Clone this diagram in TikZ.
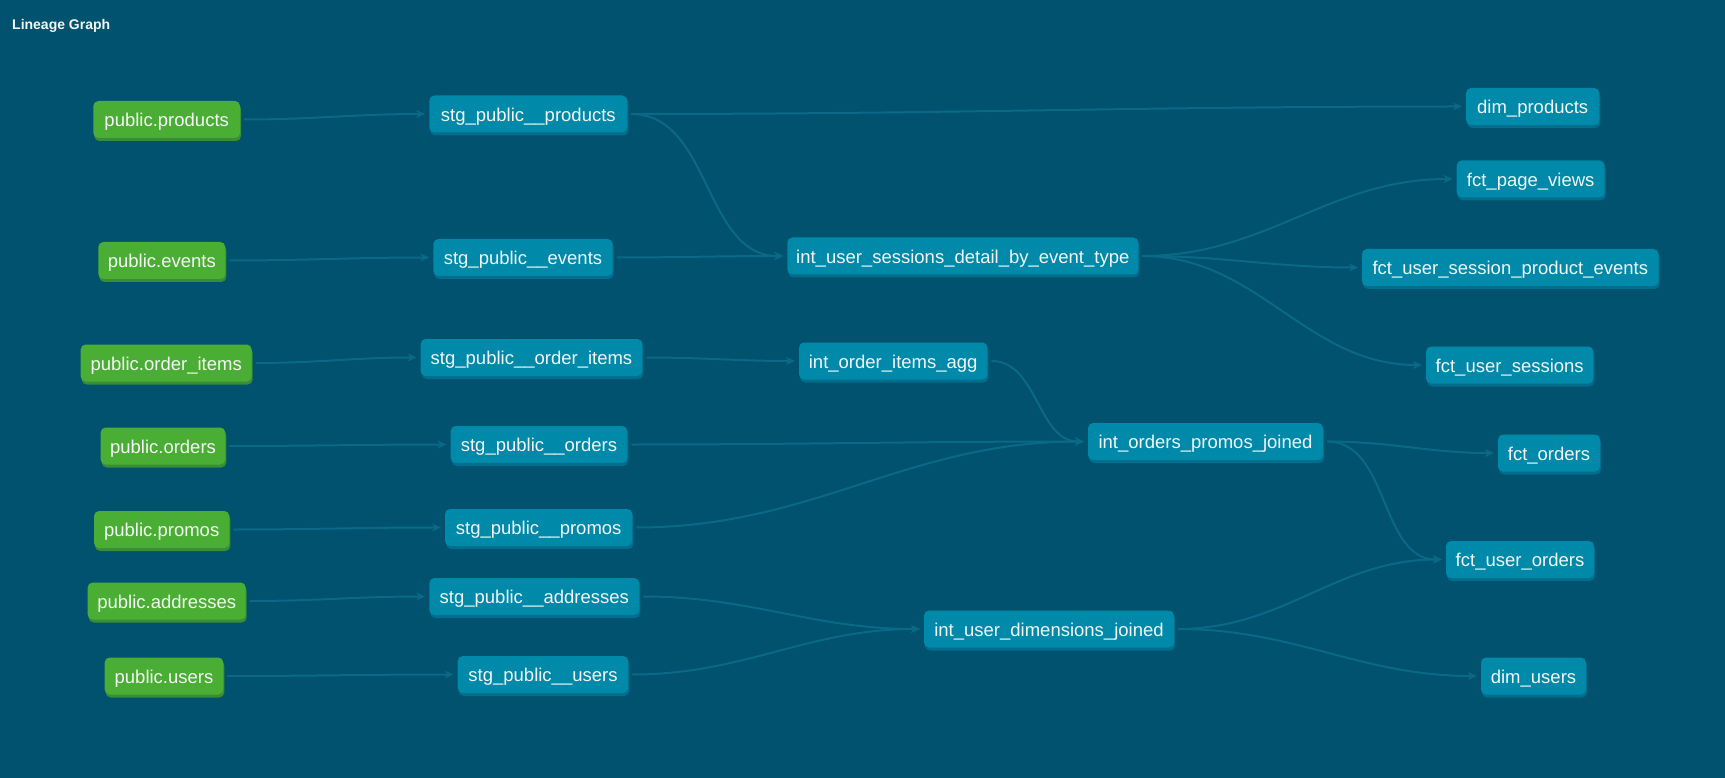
\documentclass[tikz,border=0pt]{standalone}
\usepackage{fontspec}
\setmainfont{Liberation Sans}
\usetikzlibrary{arrows.meta,shadows}

\definecolor{canvasbg}{HTML}{00526E}
\definecolor{mdlblue}{HTML}{0089A8}
\definecolor{mdlshade}{HTML}{006E8C}
\definecolor{srcgreen}{HTML}{4BAE34}
\definecolor{srcshade}{HTML}{3A8C37}
\definecolor{edgecol}{HTML}{0A6987}
\definecolor{labeltext}{HTML}{F4F6F6}

\begin{document}
\begin{tikzpicture}[x=1pt,y=-1pt,
  box/.style={rounded corners=5pt, inner xsep=0pt, inner ysep=0pt, outer sep=0pt,
    minimum height=37pt, text=labeltext, font=\fontsize{18.5}{20}\selectfont,
    text height=14.4pt, text depth=0pt},
  src/.style={box, fill=srcgreen,
    drop shadow={shadow xshift=1pt, shadow yshift=-3pt, fill=srcshade, opacity=1}},
  mdl/.style={box, fill=mdlblue,
    drop shadow={shadow xshift=1pt, shadow yshift=-3pt, fill=mdlshade, opacity=1}},
  edge/.style={draw=edgecol, line width=2pt,
    -{Stealth[length=9pt, width=8pt, inset=2.5pt]},
    shorten <=4pt, shorten >=4pt},
  flow/.style={out=0, in=180}
]
% canvas
\path[use as bounding box, fill=canvasbg] (0,0) rectangle (1725,778);

% heading
\node[anchor=base west, inner sep=0pt, text=labeltext,
  font=\fontsize{14}{16}\selectfont\bfseries] (title) at (12,30) {Lineage Graph};

% sources
\node[src, minimum width=146.7pt] (pprod)   at (166.7,119.5) {public.products};
\node[src, minimum width=127pt]   (pevents) at (161.8,260.5) {public.events};
\node[src, minimum width=171pt]   (poitems) at (166.2,363)   {public.order\_items};
\node[src, minimum width=124.6pt] (porders) at (163,446)     {public.orders};
\node[src, minimum width=135.3pt] (ppromos) at (161.7,529.5) {public.promos};
\node[src, minimum width=158pt]   (paddr)   at (166.7,601)   {public.addresses};
\node[src, minimum width=118.6pt] (pusers)  at (164,676)     {public.users};

% staging models
\node[mdl, minimum width=198pt]   (sprod)   at (528.3,114)   {stg\_public\_\_products};
\node[mdl, minimum width=179.4pt] (sevents) at (523,257.5)   {stg\_public\_\_events};
\node[mdl, minimum width=221.6pt] (soitems) at (531.5,357.5) {stg\_public\_\_order\_items};
\node[mdl, minimum width=176.6pt] (sorders) at (539,444.5)   {stg\_public\_\_orders};
\node[mdl, minimum width=187.3pt] (spromos) at (538.7,527.5) {stg\_public\_\_promos};
\node[mdl, minimum width=210pt]   (saddr)   at (534.3,596.5) {stg\_public\_\_addresses};
\node[mdl, minimum width=170.6pt] (susers)  at (543,674.5)   {stg\_public\_\_users};

% intermediate models
\node[mdl, minimum width=351pt]   (isess) at (962.8,256)  {int\_user\_sessions\_detail\_by\_event\_type};
\node[mdl, minimum width=188.3pt] (iagg)  at (893.2,361)  {int\_order\_items\_agg};
\node[mdl, minimum width=235pt]   (iopj)  at (1205.5,441.5) {int\_orders\_promos\_joined};
\node[mdl, minimum width=250pt]   (iudj)  at (1049,629)   {int\_user\_dimensions\_joined};

% marts
\node[mdl, minimum width=133.3pt] (dprod)  at (1532.7,106.5) {dim\_products};
\node[mdl, minimum width=148pt]   (fpv)    at (1530.7,179)   {fct\_page\_views};
\node[mdl, minimum width=296.7pt] (fuspe)  at (1510.3,267.5) {fct\_user\_session\_product\_events};
\node[mdl, minimum width=167.3pt] (fus)    at (1509.7,365)   {fct\_user\_sessions};
\node[mdl, minimum width=102pt]   (ford)   at (1549,453)     {fct\_orders};
\node[mdl, minimum width=148pt]   (fuo)    at (1520,559.5)   {fct\_user\_orders};
\node[mdl, minimum width=105pt]   (dusers) at (1533.5,676)   {dim\_users};

% sources -> staging
\draw[edge] (pprod.east)   to[flow] (sprod.west);
\draw[edge] (pevents.east) to[flow] (sevents.west);
\draw[edge] (poitems.east) to[flow] (soitems.west);
\draw[edge] (porders.east) to[flow] (sorders.west);
\draw[edge] (ppromos.east) to[flow] (spromos.west);
\draw[edge] (paddr.east)   to[flow] (saddr.west);
\draw[edge] (pusers.east)  to[flow] (susers.west);

% staging -> intermediate / marts
\draw[edge] (sprod.east)   to[flow] (dprod.west);
\draw[edge] (sprod.east)   to[flow] (isess.west);
\draw[edge] (sevents.east) to[flow] (isess.west);
\draw[edge] (soitems.east) to[flow] (iagg.west);
\draw[edge] (iagg.east)    to[flow] (iopj.west);
\draw[edge] (sorders.east) to[flow] (iopj.west);
\draw[edge] (spromos.east) to[flow] (iopj.west);
\draw[edge] (saddr.east)   to[flow] (iudj.west);
\draw[edge] (susers.east)  to[flow] (iudj.west);

% intermediate -> marts
\draw[edge] (isess.east) to[flow] (fpv.west);
\draw[edge] (isess.east) to[flow] (fuspe.west);
\draw[edge] (isess.east) to[flow] (fus.west);
\draw[edge] (iopj.east)  to[flow] (ford.west);
\draw[edge] (iopj.east)  to[flow] (fuo.west);
\draw[edge] (iudj.east)  to[flow] (fuo.west);
\draw[edge] (iudj.east)  to[flow] (dusers.west);
\end{tikzpicture}
\end{document}
